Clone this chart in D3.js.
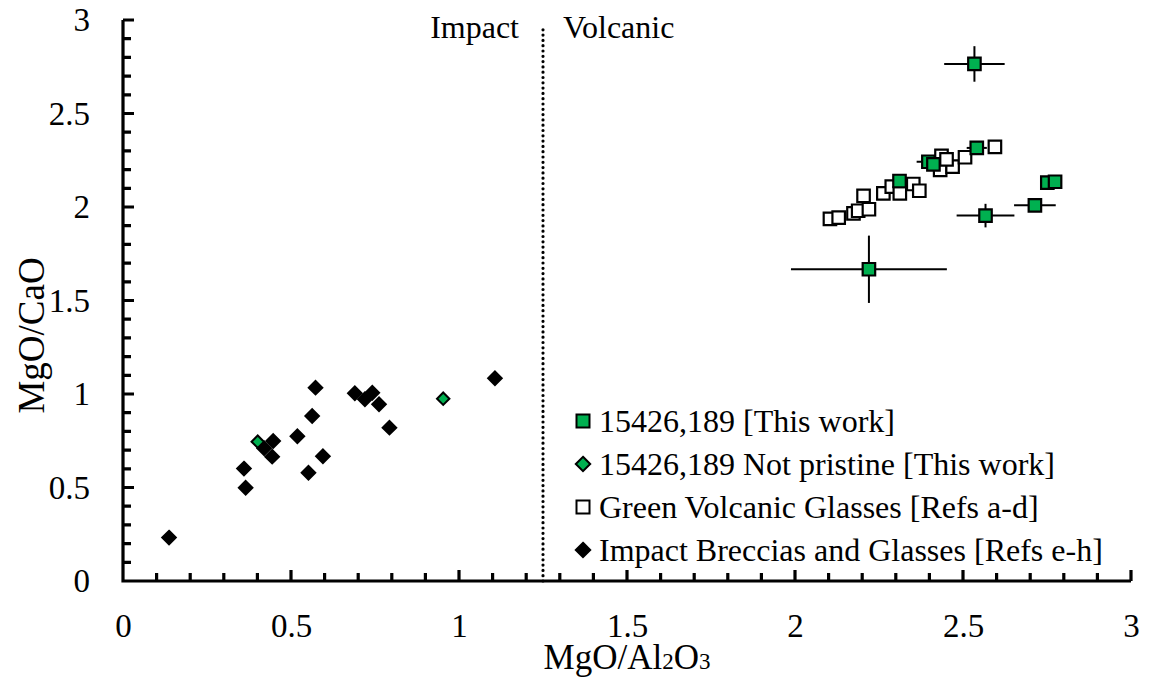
<!DOCTYPE html>
<html>
<head>
<meta charset="utf-8">
<script src="https://cdn.jsdelivr.net/npm/d3@7"></script>
<style>
  html, body { margin: 0; padding: 0; background: #fff; }
  svg { display: block; font-family: "Liberation Serif", "Times New Roman", serif; }
</style>
</head>
<body>
<svg id="chart" width="1152" height="677"></svg>
<script>
// 15426,189 measurements (green squares) with 1-sigma uncertainties
const thisWorkX    = [2.534, 2.311, 2.397, 2.412, 2.541, 2.567, 2.714, 2.751, 2.774, 2.220];
const thisWorkY    = [2.765, 2.139, 2.242, 2.228, 2.316, 1.954, 2.009, 2.130, 2.135, 1.667];
const thisWorkXErr = [0.090, 0.000, 0.035, 0.000, 0.030, 0.086, 0.062, 0.020, 0.000, 0.232];
const thisWorkYErr = [0.095, 0.000, 0.000, 0.000, 0.000, 0.063, 0.000, 0.020, 0.000, 0.180];

// 15426,189 not-pristine analyses (green diamonds)
const notPristineX = [0.401, 0.953];
const notPristineY = [0.745, 0.975];

// Green volcanic glasses, refs a-d (open squares)
const volcanicX = [2.104, 2.130, 2.174, 2.188, 2.220, 2.204, 2.263, 2.288, 2.312, 2.352, 2.370,
                   2.436, 2.432, 2.469, 2.451, 2.506, 2.595];
const volcanicY = [1.937, 1.943, 1.966, 1.980, 1.988, 2.059, 2.073, 2.109, 2.073, 2.123, 2.087,
                   2.273, 2.198, 2.216, 2.255, 2.266, 2.322];

// Impact breccias and glasses, refs e-h (black diamonds)
const impactX = [0.137, 0.360, 0.365, 0.420, 0.447, 0.444, 0.519, 0.563, 0.573, 0.552, 0.595,
                 0.690, 0.720, 0.742, 0.762, 0.793, 1.107];
const impactY = [0.232, 0.601, 0.499, 0.710, 0.749, 0.665, 0.774, 0.882, 1.034, 0.579, 0.667,
                 1.004, 0.972, 1.007, 0.945, 0.820, 1.084];

// Axis ticks and labels
const majorTicks = [0, 0.5, 1, 1.5, 2, 2.5, 3];
const minorTicks = [0.1, 0.2, 0.3, 0.4, 0.6, 0.7, 0.8, 0.9, 1.1, 1.2, 1.3, 1.4, 1.6, 1.7, 1.8, 1.9,
                    2.1, 2.2, 2.3, 2.4, 2.6, 2.7, 2.8, 2.9];
const tickLabels = ["0", "0.5", "1", "1.5", "2", "2.5", "3"];

// Impact / volcanic divide
const divideX = 1.25;
const divideTop = 2.97;
const regionLabels = ["Impact", "Volcanic"];

const legendLabels = [
  "15426,189 [This work]",
  "15426,189 Not pristine [This work]",
  "Green Volcanic Glasses [Refs a-d]",
  "Impact Breccias and Glasses [Refs e-h]"
];

const GREEN = "#00B050";
const FONT = '"Liberation Serif", "Times New Roman", serif';
const MINOR_LEN = 8;
const MAJOR_LEN = 11;

const svg = d3.select("#chart");
const x = d3.scaleLinear().domain([0, 3]).range([123, 1131]);
const y = d3.scaleLinear().domain([0, 3]).range([581, 20]);

// ---- axes: labels from d3 axes ----
function styleLabels(g) {
  g.select("path.domain").remove();
  g.selectAll(".tick line").remove();
  g.selectAll(".tick text").attr("fill", "#000")
    .style("font-family", FONT).style("font-size", "33px");
}
svg.append("g").attr("transform", `translate(0,${y(0)})`)
  .call(d3.axisBottom(x).tickValues(majorTicks).tickSize(0).tickPadding(33)
    .tickFormat((d, i) => tickLabels[i]))
  .call(styleLabels);
svg.append("g").attr("transform", `translate(${x(0)},0)`)
  .call(d3.axisLeft(y).tickValues(majorTicks).tickSize(0).tickPadding(33)
    .tickFormat((d, i) => tickLabels[i]))
  .call(styleLabels);

// ---- inward tick marks and axis lines, as one path ----
const tickMarks = [
  ...minorTicks.map(v => [v, MINOR_LEN]),
  ...majorTicks.filter(v => v > 0).map(v => [v, MAJOR_LEN])
];
let axisD = `M${x(0)},${y(3)}V${y(0)}H${x(3)}`;
tickMarks.forEach(([v, len]) => {
  axisD += `M${x(v)},${y(0)}v${-len}`;
  axisD += `M${x(0)},${y(v)}h${len}`;
});
svg.append("path")
  .attr("d", axisD)
  .attr("fill", "none").attr("stroke", "#000").attr("stroke-width", 3.2)
  .attr("stroke-linecap", "butt");

// axis titles
const xTitle = svg.append("text")
  .attr("x", (x(0) + x(3)) / 2).attr("y", 669)
  .attr("text-anchor", "middle").attr("font-size", 35).attr("fill", "#000");
xTitle.append("tspan").text("MgO/Al");
xTitle.append("tspan").attr("font-size", 23).text("2");
xTitle.append("tspan").text("O");
xTitle.append("tspan").attr("font-size", 23).text("3");

svg.append("text")
  .attr("transform", `translate(44,${(y(0) + y(3)) / 2 + 35}) rotate(-90)`)
  .attr("text-anchor", "middle").attr("font-size", 37).attr("fill", "#000")
  .text("MgO/CaO");

// ---- impact / volcanic divide ----
svg.append("line")
  .attr("x1", x(divideX)).attr("x2", x(divideX))
  .attr("y1", y(0)).attr("y2", y(divideTop))
  .attr("stroke", "#000").attr("stroke-width", 3.2)
  .attr("stroke-linecap", "round").attr("stroke-dasharray", "0 5.3");

svg.append("text").attr("x", x(divideX) - 24).attr("y", 38)
  .attr("text-anchor", "end").attr("font-size", 32).attr("fill", "#000").text(regionLabels[0]);
svg.append("text").attr("x", x(divideX) + 20).attr("y", 38)
  .attr("text-anchor", "start").attr("font-size", 32).attr("fill", "#000").text(regionLabels[1]);

// ---- marker helpers ----
function squarePath(s) {
  const h = s / 2;
  return `M${-h},${-h}H${h}V${h}H${-h}Z`;
}
function diamondPath(hd) {
  return `M0,${-hd}L${hd},0L0,${hd}L${-hd},0Z`;
}

// ---- green volcanic glasses ----
svg.append("g").selectAll("path")
  .data(d3.zip(volcanicX, volcanicY))
  .join("path")
  .attr("transform", d => `translate(${x(d[0])},${y(d[1])})`)
  .attr("d", squarePath(12.5))
  .attr("fill", "#fff").attr("stroke", "#000").attr("stroke-width", 2.2);

// ---- this work: error bars then markers ----
const tw = d3.range(thisWorkX.length).map(i => ({
  x: thisWorkX[i], y: thisWorkY[i], ex: thisWorkXErr[i], ey: thisWorkYErr[i]
}));
const errG = svg.append("g").attr("stroke", "#000").attr("stroke-width", 2);
errG.selectAll("line.ex").data(tw.filter(d => d.ex > 0)).join("line").attr("class", "ex")
  .attr("x1", d => x(d.x - d.ex)).attr("x2", d => x(d.x + d.ex))
  .attr("y1", d => y(d.y)).attr("y2", d => y(d.y));
errG.selectAll("line.ey").data(tw.filter(d => d.ey > 0)).join("line").attr("class", "ey")
  .attr("x1", d => x(d.x)).attr("x2", d => x(d.x))
  .attr("y1", d => y(d.y - d.ey)).attr("y2", d => y(d.y + d.ey));

svg.append("g").selectAll("path")
  .data(tw)
  .join("path")
  .attr("transform", d => `translate(${x(d.x)},${y(d.y)})`)
  .attr("d", squarePath(12.5))
  .attr("fill", GREEN).attr("stroke", "#000").attr("stroke-width", 2.2);

// ---- impact breccias ----
svg.append("g").selectAll("path")
  .data(d3.zip(impactX, impactY))
  .join("path")
  .attr("transform", d => `translate(${x(d[0])},${y(d[1])})`)
  .attr("d", diamondPath(6.8))
  .attr("fill", "#000").attr("stroke", "#000").attr("stroke-width", 2);

// ---- not pristine ----
svg.append("g").selectAll("path")
  .data(d3.zip(notPristineX, notPristineY))
  .join("path")
  .attr("transform", d => `translate(${x(d[0])},${y(d[1])})`)
  .attr("d", diamondPath(6.2))
  .attr("fill", GREEN).attr("stroke", "#000").attr("stroke-width", 2);

// ---- legend ----
const legendItems = [
  { d: squarePath(13), fill: GREEN },
  { d: diamondPath(7.2), fill: GREEN },
  { d: squarePath(13), fill: "#fff" },
  { d: diamondPath(7.2), fill: "#000" }
];
const legend = svg.append("g");
legendItems.forEach((it, i) => {
  const cy = 421 + i * 43;
  legend.append("path").attr("transform", `translate(583,${cy})`)
    .attr("d", it.d).attr("fill", it.fill).attr("stroke", "#000").attr("stroke-width", 2);
  legend.append("text").attr("x", 599).attr("y", cy + 11)
    .attr("font-size", 32).attr("fill", "#000").text(legendLabels[i]);
});
</script>
</body>
</html>
